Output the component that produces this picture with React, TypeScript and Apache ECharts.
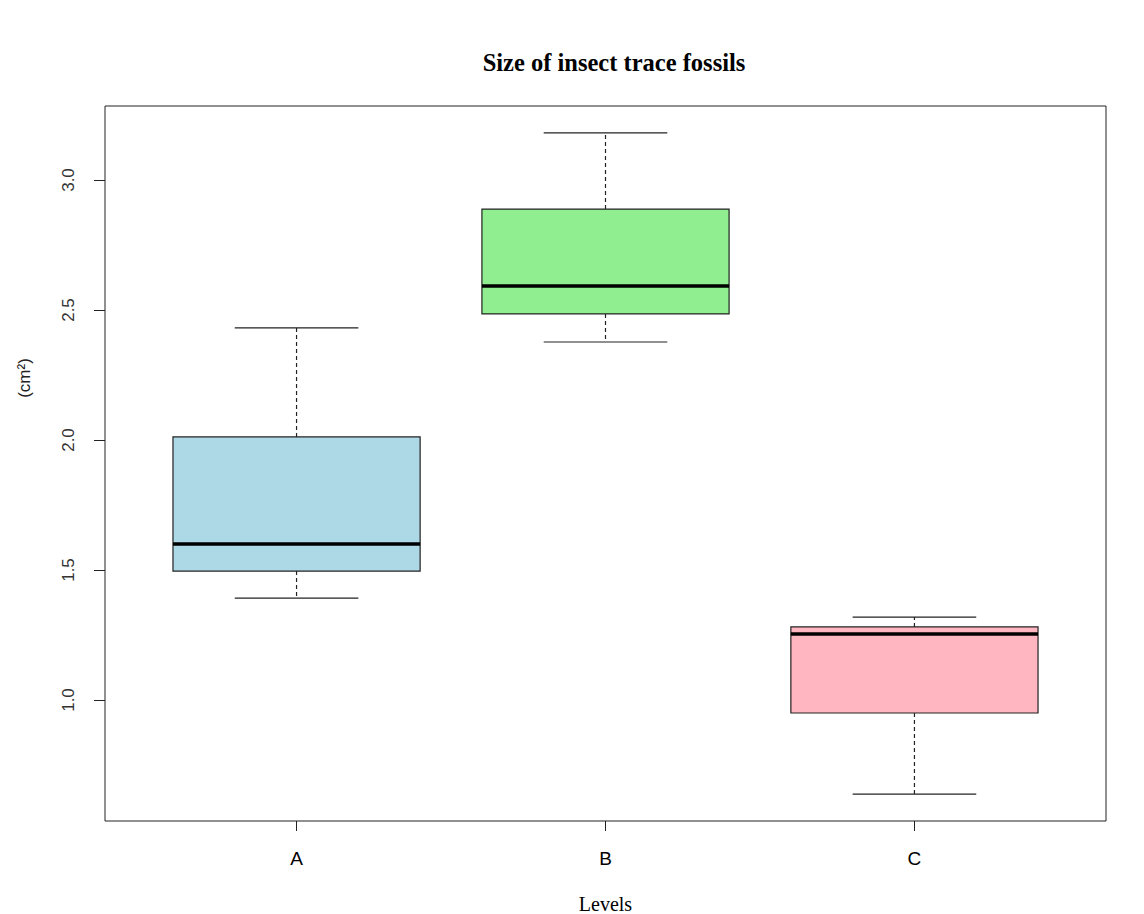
import React, { useEffect, useRef } from "react";
import * as echarts from "echarts";

const categories = ["A", "B", "C"];
const lowWhisker = [1.392, 2.377, 0.638];
const lowerQuartile = [1.496, 2.485, 0.95];
const medians = [1.6, 2.592, 1.254];
const upperQuartile = [2.012, 2.888, 1.281];
const highWhisker = [2.431, 3.181, 1.319];
const boxColors = ["#ADD8E6", "#90EE90", "#FFB6C1"];
const yTicks = [1.0, 1.5, 2.0, 2.5, 3.0];
const xTicks = [1, 2, 3];

export default function App() {
  const ref = useRef<HTMLDivElement>(null);
  useEffect(() => {
    if (!ref.current) return;
    const chart = echarts.init(ref.current, null, { renderer: "svg" });
    const data = categories.map((_, i) => [
      i + 1,
      lowWhisker[i],
      lowerQuartile[i],
      medians[i],
      upperQuartile[i],
      highWhisker[i],
    ]);
    const option: any = {
      animation: false,
      backgroundColor: "#ffffff",
      title: {
        text: "Size of insect trace fossils",
        left: 609,
        top: 45,
        textAlign: "center",
        textStyle: {
          fontFamily: "Liberation Serif",
          fontWeight: "bold",
          fontSize: 24.5,
          color: "#000",
        },
      },
      graphic: [
        {
          type: "text",
          x: 24,
          y: 378,
          rotation: Math.PI / 2,
          style: {
            text: "(cm²)",
            fontFamily: "Liberation Sans",
            fontSize: 17,
            fill: "#222",
            align: "center",
            verticalAlign: "middle",
          },
        },
      ],
      grid: {
        left: 105,
        top: 106,
        width: 1001,
        height: 715,
        outerBoundsMode: "none",
        containLabel: false,
        show: true,
        borderColor: "#222",
        borderWidth: 1,
        backgroundColor: "transparent",
      },
      xAxis: {
        type: "value",
        min: 0.38,
        max: 3.62,
        splitLine: { show: false },
        axisLine: { show: false },
        axisTick: {
          show: true,
          length: 10,
          customValues: xTicks,
          lineStyle: { color: "#222", width: 1 },
        },
        axisLabel: {
          customValues: xTicks,
          formatter: (v: number) => categories[Math.round(v) - 1] ?? "",
          fontFamily: "Liberation Sans",
          fontSize: 19,
          color: "#000",
          margin: 28,
        },
        name: "Levels",
        nameLocation: "middle",
        nameGap: 73,
        nameTextStyle: {
          fontFamily: "Liberation Serif",
          fontSize: 20,
          color: "#000",
        },
      },
      yAxis: {
        type: "value",
        min: 0.5346,
        max: 3.2846,
        splitLine: { show: false },
        axisLine: { show: false },
        axisTick: {
          show: true,
          length: 11,
          customValues: yTicks,
          lineStyle: { color: "#222", width: 1 },
        },
        axisLabel: {
          customValues: yTicks,
          formatter: (v: number) => v.toFixed(1),
          rotate: 90,
          fontFamily: "Liberation Sans",
          fontSize: 17,
          color: "#333",
          margin: 28,
        },
      },
      series: [
        {
          type: "custom",
          data,
          encode: { x: 0, y: [1, 2, 3, 4, 5] },
          renderItem: (params: any, api: any) => {
            const x = api.value(0);
            const lo = api.value(1);
            const q1 = api.value(2);
            const med = api.value(3);
            const q3 = api.value(4);
            const hi = api.value(5);
            const cx = api.coord([x, 1])[0];
            const yy = (v: number) => api.coord([x, v])[1];
            const halfBox = api.size([0.8, 0])[0] / 2;
            const halfCap = halfBox / 2;
            const dash = { stroke: "#222", lineWidth: 1.2, lineDash: [4, 3] };
            const solid = { stroke: "#222", lineWidth: 1.2 };
            const color = boxColors[params.dataIndex];
            return {
              type: "group",
              children: [
                {
                  type: "line",
                  shape: { x1: cx, y1: yy(q3), x2: cx, y2: yy(hi) },
                  style: dash,
                },
                {
                  type: "line",
                  shape: { x1: cx, y1: yy(q1), x2: cx, y2: yy(lo) },
                  style: dash,
                },
                {
                  type: "line",
                  shape: { x1: cx - halfCap, y1: yy(hi), x2: cx + halfCap, y2: yy(hi) },
                  style: solid,
                },
                {
                  type: "line",
                  shape: { x1: cx - halfCap, y1: yy(lo), x2: cx + halfCap, y2: yy(lo) },
                  style: solid,
                },
                {
                  type: "rect",
                  shape: {
                    x: cx - halfBox,
                    y: yy(q3),
                    width: halfBox * 2,
                    height: yy(q1) - yy(q3),
                  },
                  style: { fill: color, stroke: "#222", lineWidth: 1.2 },
                },
                {
                  type: "line",
                  shape: { x1: cx - halfBox, y1: yy(med), x2: cx + halfBox, y2: yy(med) },
                  style: { stroke: "#000", lineWidth: 3.5 },
                },
              ],
            };
          },
        },
      ],
    };
    chart.setOption(option);
    return () => chart.dispose();
  }, []);
  return (
    <div
      ref={ref}
      style={{ position: "absolute", left: 0, top: 0, width: 1144, height: 914 }}
    />
  );
}
